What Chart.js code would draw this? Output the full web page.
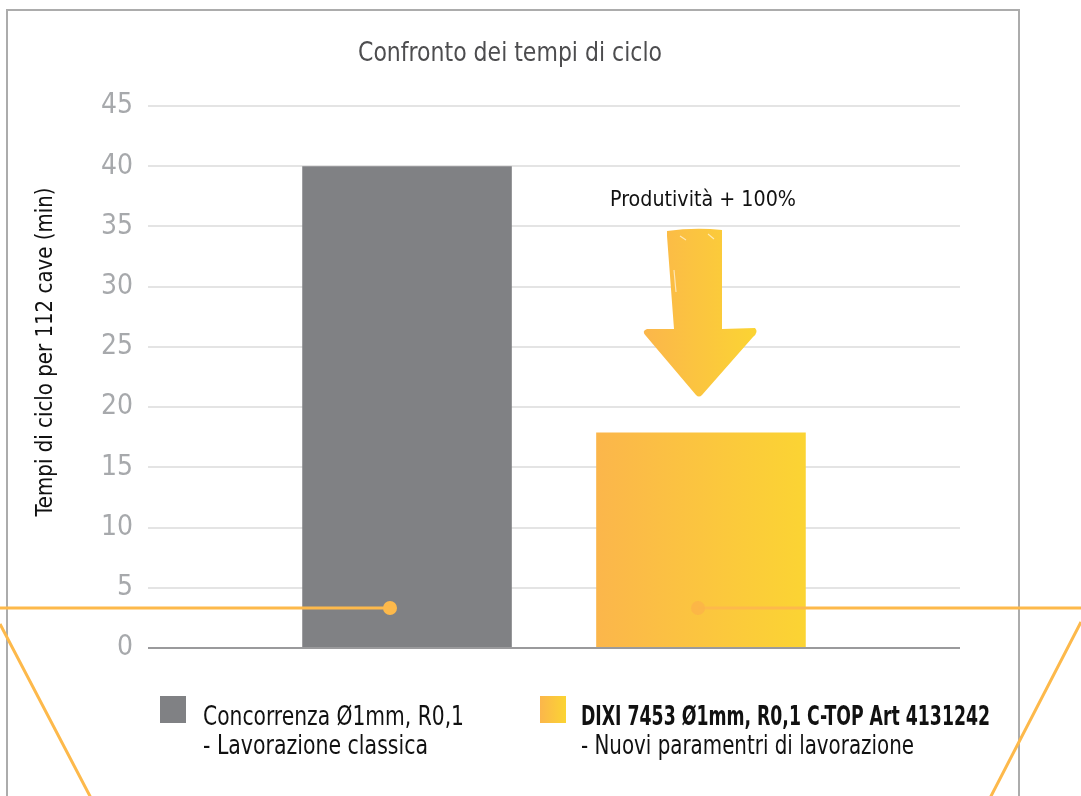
<!DOCTYPE html>
<html>
<head>
<meta charset="utf-8">
<script src="https://cdn.jsdelivr.net/npm/chart.js@4/dist/chart.umd.min.js"></script>
<style>
  html, body { margin: 0; padding: 0; background: #fff; }
  #wrap { width: 1081px; height: 796px; position: relative; }
</style>
</head>
<body>
<div id="wrap"><canvas id="tempiChart" width="1081" height="796"></canvas></div>
<script>
// Dati del grafico
const categories = [''];
const seriesNames = ['Concorrenza Ø1mm, R0,1', 'DIXI 7453 Ø1mm, R0,1 C-TOP Art 4131242'];
const seriesNotes = ['- Lavorazione classica', '- Nuovi paramentri di lavorazione'];
const concorrenzaValues = [40];
const dixiValues = [17.9];
const yTickLabels = ['0', '5', '10', '15', '20', '25', '30', '35', '40', '45'];

const titleText = 'Confronto dei tempi di ciclo';
const yAxisText = 'Tempi di ciclo per 112 cave (min)';
const noteText = 'Produtività + 100%';

const FONT = '"Liberation Sans Narrow", "DejaVu Sans Condensed", "Roboto", sans-serif';
const CAT_PCT = 0.724;
const BAR_PCT = 0.713;

function orangeGradient(ctx, x0, x1) {
    const g = ctx.createLinearGradient(x0, 0, x1, 0);
    g.addColorStop(0, '#fbb64b');
    g.addColorStop(1, '#fbd433');
    return g;
}

// testo compresso in orizzontale fino alla larghezza voluta
function fitText(c, text, x, y, w) {
    const m = c.measureText(text).width;
    const s = Math.min(1.1, w / m);
    c.save();
    c.translate(x, y);
    c.scale(s, 1);
    c.fillText(text, 0, 0);
    c.restore();
}

// gradiente della barra DIXI calcolato dalla scala x
function dixiFill(context) {
    const chart = context.chart;
    const xs = chart.scales.x;
    if (!chart.chartArea || !xs) return '#fbc23f';
    const center = xs.getPixelForValue(0);
    const slot = (chart.chartArea.right - chart.chartArea.left) * CAT_PCT / categories.length / 2;
    const x0 = center + slot * (1 - BAR_PCT) / 2;
    const x1 = center + slot * (1 + BAR_PCT) / 2;
    return orangeGradient(chart.ctx, x0, x1);
}

const decorPlugin = {
    id: 'decor',
    beforeDraw(chart) {
        const c = chart.ctx;
        c.save();
        c.fillStyle = '#fff';
        c.fillRect(0, 0, chart.width, chart.height);
        // cornice grigia
        c.strokeStyle = '#acacac';
        c.lineWidth = 2;
        c.strokeRect(7, 10, 1012, 800);
        // titolo
        c.fillStyle = '#4d4d4f';
        c.font = '27px ' + FONT;
        c.textAlign = 'center';
        c.textBaseline = 'middle';
        fitText(c, titleText, 510, 54, 304);
        // titolo asse y
        c.translate(46, 352);
        c.rotate(-Math.PI / 2);
        c.fillStyle = '#111';
        c.font = '23px ' + FONT;
        fitText(c, yAxisText, 0, 0, 329);
        c.restore();
    },
    afterDatasetsDraw(chart) {
        const c = chart.ctx;
        const xs = chart.scales.x, ys = chart.scales.y;
        const area = chart.chartArea;
        const center = xs.getPixelForValue(0);
        const slot = (area.right - area.left) * CAT_PCT / categories.length / 2;
        const ax = center + slot / 2; // centro barra DIXI

        c.save();
        // nota
        c.fillStyle = '#111';
        c.font = '22px ' + FONT;
        c.textAlign = 'center';
        c.textBaseline = 'middle';
        fitText(c, noteText, 703, 200, 186);

        // freccia disegnata a mano
        const top = 230, wing = 331, tip = 397;
        const axr = 700;
        c.fillStyle = orangeGradient(c, axr - 57, axr + 57);
        c.beginPath();
        c.moveTo(axr - 33, top + 1);
        c.quadraticCurveTo(axr - 5, top - 3, axr + 22, top);
        c.lineTo(axr + 22, wing - 2);
        c.lineTo(axr + 55, wing - 3);
        c.quadraticCurveTo(axr + 59, wing + 1, axr + 53, wing + 6);
        c.lineTo(axr + 2, tip - 2);
        c.quadraticCurveTo(axr - 1, tip + 1, axr - 4, tip - 2);
        c.lineTo(axr - 54, wing + 5);
        c.quadraticCurveTo(axr - 59, wing, axr - 53, wing - 2);
        c.lineTo(axr - 26, wing - 2);
        c.lineTo(axr - 33, top + 6);
        c.closePath();
        c.fill();
        c.strokeStyle = 'rgba(255,255,255,0.6)';
        c.lineWidth = 1.2;
        c.beginPath();
        c.moveTo(axr - 20, top + 6); c.lineTo(axr - 14, top + 10);
        c.moveTo(axr + 8, top + 4); c.lineTo(axr + 14, top + 9);
        c.moveTo(axr - 26, top + 40); c.lineTo(axr - 24, top + 62);
        c.stroke();

        // linee decorative arancioni
        c.strokeStyle = '#fdb94b';
        c.lineWidth = 3;
        c.beginPath();
        c.moveTo(0, 608); c.lineTo(390, 608);
        c.moveTo(698, 608); c.lineTo(1081, 608);
        c.moveTo(0, 624); c.lineTo(92, 800);
        c.moveTo(1081, 622); c.lineTo(989, 800);
        c.stroke();
        c.fillStyle = '#fdb94b';
        c.beginPath(); c.arc(390, 608, 7, 0, Math.PI * 2); c.fill();
        c.fillStyle = 'rgba(251,180,72,0.85)';
        c.beginPath(); c.arc(698, 608, 7, 0, Math.PI * 2); c.fill();

        // legenda
        const items = [
            { sx: 160, tx: 203, color: '#808184', bold: false, w1: 261, w2: 225 },
            { sx: 540, tx: 581, color: null, bold: true, w1: 409, w2: 333 }
        ];
        items.forEach(function(it, i) {
            c.fillStyle = it.color || orangeGradient(c, it.sx, it.sx + 26);
            c.fillRect(it.sx, 696, 26, 27);
            c.fillStyle = '#111';
            c.textAlign = 'left';
            c.textBaseline = 'alphabetic';
            c.font = (it.bold ? 'bold ' : '') + '26px ' + FONT;
            fitText(c, seriesNames[i], it.tx, 725, it.w1);
            c.font = '26px ' + FONT;
            fitText(c, seriesNotes[i], it.tx, 754, it.w2);
        });
        c.restore();
    }
};

new Chart(document.getElementById('tempiChart'), {
    type: 'bar',
    data: {
        labels: categories,
        datasets: [{
            label: seriesNames[0],
            data: concorrenzaValues,
            backgroundColor: '#808184'
        }, {
            label: seriesNames[1],
            data: dixiValues,
            backgroundColor: dixiFill
        }]
    },
    options: {
        responsive: false,
        animation: false,
        categoryPercentage: CAT_PCT,
        barPercentage: BAR_PCT,
        layout: {
            padding: { left: 3, right: 121, top: 106, bottom: 148 }
        },
        plugins: {
            legend: { display: false },
            title: { display: false },
            tooltip: { enabled: false }
        },
        scales: {
            x: { display: false },
            y: {
                min: 0,
                max: 45,
                ticks: {
                    stepSize: 5,
                    padding: 15,
                    color: '#a7a9ac',
                    font: { family: FONT, size: 28 },
                    callback: function(v, i) { return yTickLabels[i]; }
                },
                grid: {
                    drawTicks: false,
                    lineWidth: 2,
                    color: function(ctx) { return ctx.tick && ctx.tick.value === 0 ? '#9a9a9c' : '#e4e4e4'; }
                },
                border: { display: false },
                afterFit: function(scale) { scale.width = 145; }
            }
        }
    },
    plugins: [decorPlugin]
});
</script>
</body>
</html>
